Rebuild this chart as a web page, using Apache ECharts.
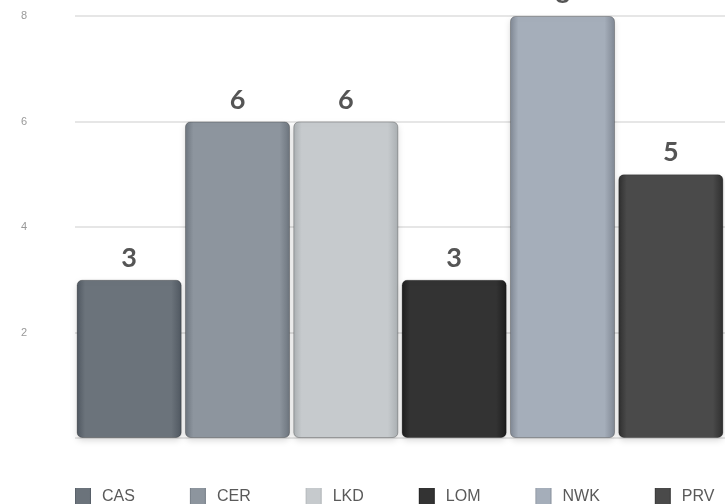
<!DOCTYPE html>
<html>
<head>
<meta charset="utf-8">
<script src="https://cdn.jsdelivr.net/npm/echarts@6/dist/echarts.min.js"></script>
<style>
  html, body { margin: 0; padding: 0; background: #fff; }
  #chart { width: 725px; height: 504px; }
</style>
</head>
<body>
<div id="chart"></div>
<script>
const categories = ['CAS', 'CER', 'LKD', 'LOM', 'NWK', 'PRV']
const values = [3, 6, 6, 3, 8, 5]
const yTicks = [0, 2, 4, 6, 8]

// bar face colours (edge, middle) and legend swatches
const barColors = [
  ['#4f5760', '#6b737b'],
  ['#6c747d', '#8d959e'],
  ['#a9aeb1', '#c6cacd'],
  ['#1c1c1c', '#333333'],
  ['#7f8793', '#a5aeba'],
  ['#2e2e2e', '#4a4a4a']
]
const legendColors = ['#4c545d', '#7b848d', '#b5b9bb', '#1a1a1a', '#929aa5', '#2f2f2f']

const chart = echarts.init(document.getElementById('chart'))

const series = categories.map((name, i) => ({
  name: name,
  type: 'bar',
  stack: 'all',
  barCategoryGap: '3%',
  color: legendColors[i],
  data: values.map((v, j) => (j === i ? v : '-')),
  itemStyle: {
    color: new echarts.graphic.LinearGradient(0, 0, 1, 0, [
      { offset: 0, color: barColors[i][0] },
      { offset: 0.08, color: barColors[i][1] },
      { offset: 0.9, color: barColors[i][1] },
      { offset: 1, color: barColors[i][0] }
    ]),
    borderRadius: 5,
    borderColor: 'rgba(0,0,0,0.25)',
    borderWidth: 1,
    shadowColor: 'rgba(0,0,0,0.15)',
    shadowBlur: 6,
    shadowOffsetY: 3
  },
  label: {
    show: true,
    position: 'top',
    distance: 8,
    color: '#555',
    fontFamily: 'Lato',
    fontWeight: 'bold',
    fontSize: 27
  }
}))

chart.setOption({
  animation: false,
  grid: {
    left: 75,
    right: 0,
    top: 16,
    bottom: 66
  },
  legend: {
    data: categories,
    left: 70,
    top: 483,
    width: 720,
    itemWidth: 16,
    itemHeight: 18,
    itemGap: 55,
    icon: 'rect',
    itemStyle: { borderWidth: 0 },
    textStyle: {
      color: '#5a5a5a',
      fontFamily: 'Liberation Sans',
      fontSize: 16,
      padding: [0, 0, 0, 6]
    }
  },
  xAxis: {
    type: 'category',
    data: categories,
    axisLine: { show: false },
    axisTick: { show: false },
    axisLabel: { show: false }
  },
  yAxis: {
    type: 'value',
    min: yTicks[0],
    max: yTicks[yTicks.length - 1],
    interval: 2,
    axisLine: { show: false },
    axisTick: { show: false },
    axisLabel: {
      margin: 48,
      color: '#999',
      fontSize: 11,
      formatter: v => (v === 0 ? '' : v)
    },
    splitLine: {
      lineStyle: { color: '#e6e6e6', width: 2 }
    }
  },
  series: series
})
</script>
</body>
</html>
